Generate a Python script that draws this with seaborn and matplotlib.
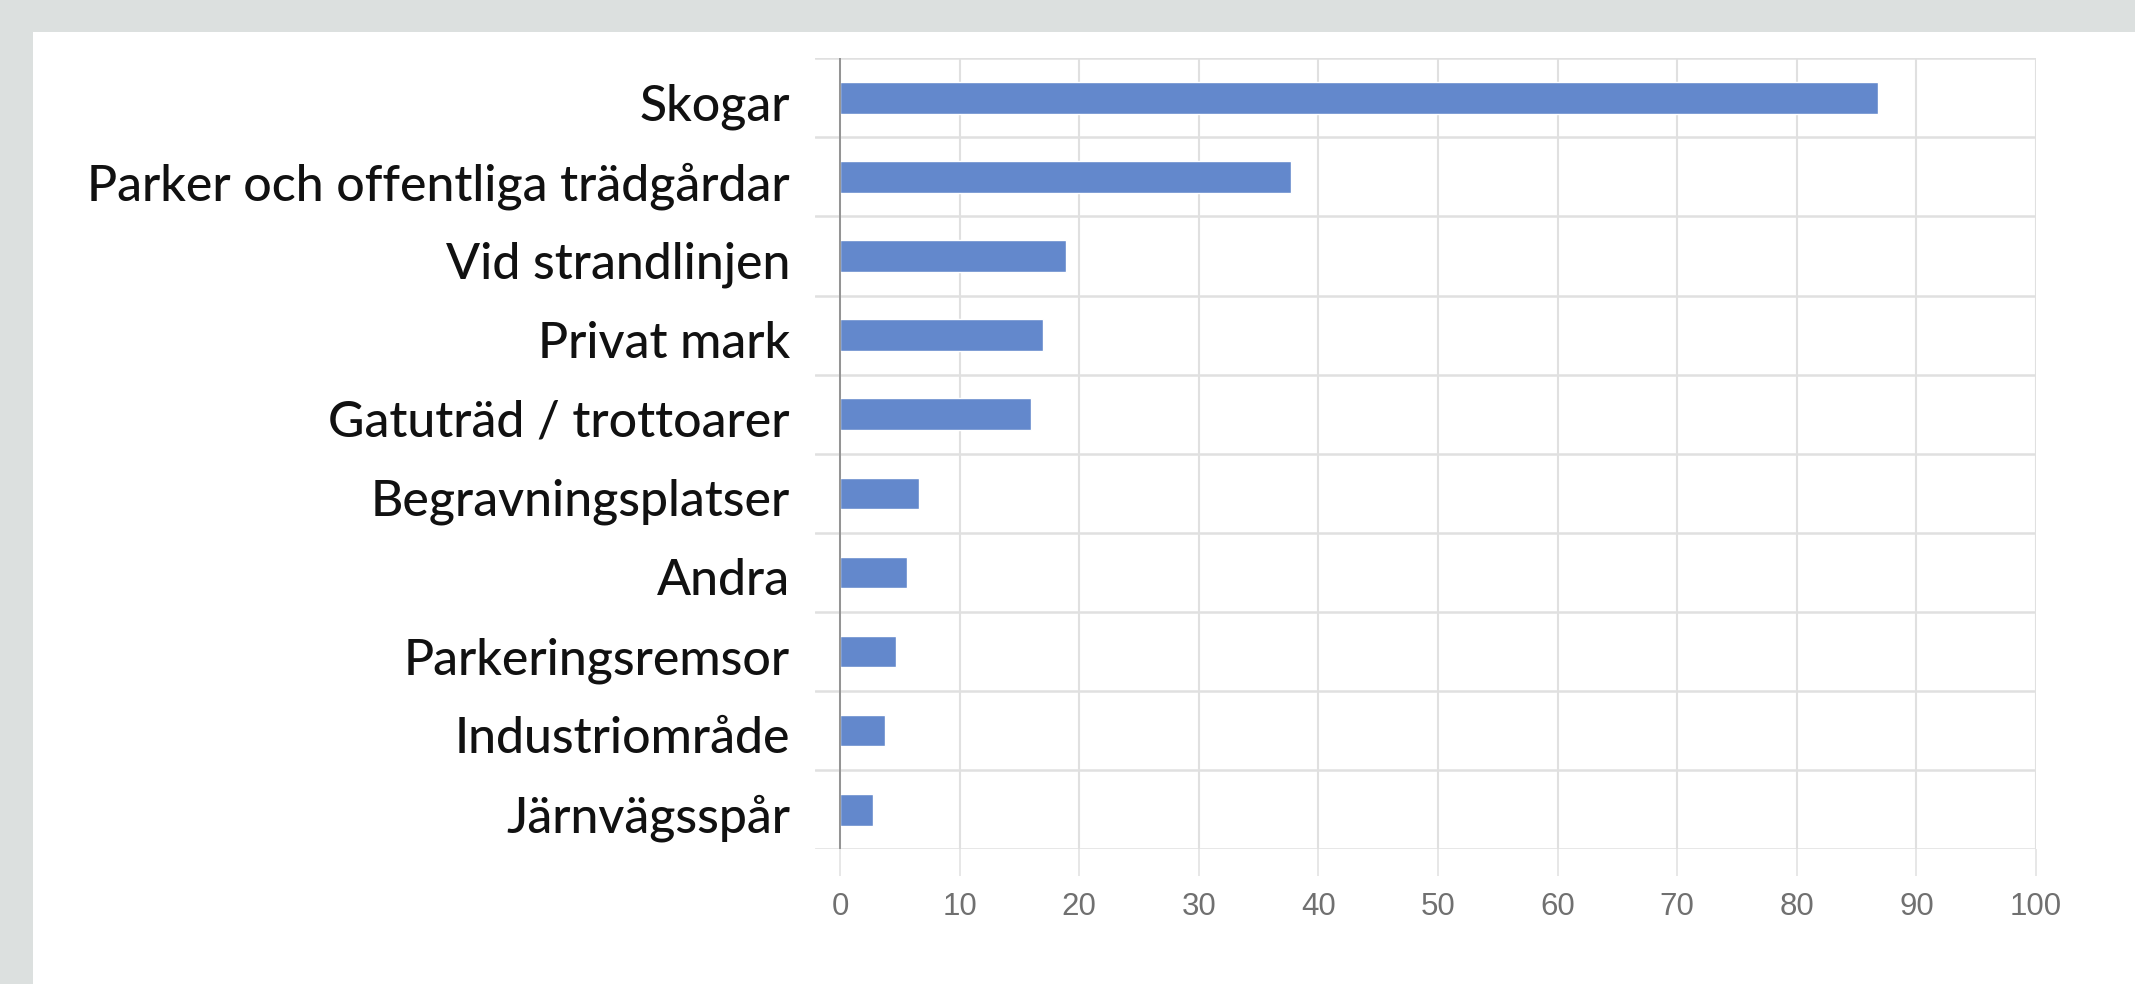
import matplotlib
matplotlib.use("Agg")
import matplotlib.pyplot as plt
import matplotlib.transforms as mtransforms
from matplotlib.patches import Rectangle
import seaborn as sns
import pandas as pd
import numpy as np

# --- data ---
categories = [
    "Skogar",
    "Parker och offentliga trädgårdar",
    "Vid strandlinjen",
    "Privat mark",
    "Gatuträd / trottoarer",
    "Begravningsplatser",
    "Andra",
    "Parkeringsremsor",
    "Industriområde",
    "Järnvägsspår",
]
values = [86.8, 37.7, 18.9, 17.0, 16.0, 6.6, 5.6, 4.7, 3.8, 2.8]
xticks = list(range(0, 101, 10))

W, H = 2135, 984
BG = "#dce0df"
BAR = "#6388cc"
GRID = "#e0e0e0"

df = pd.DataFrame({"plats": categories, "andel": values})

sns.set_style("white")
fig = plt.figure(figsize=(W / 100, H / 100), dpi=100, facecolor=BG)
# white card on the grey page
fig.patches.append(Rectangle((33 / W, 0), 1, 1 - 31.5 / H, transform=fig.transFigure,
                             facecolor="white", edgecolor="none", zorder=-10))

# axes: left edge a bit before x=0 so row lines stick out past the axis
ax = fig.add_axes([815 / W, 134.7 / H, (2036 - 815) / W, (925.7 - 134.7) / H])
ax.set_zorder(1)
ax.set_facecolor("white")

sns.barplot(data=df, x="andel", y="plats", orient="h", color=BAR, saturation=1,
            width=0.4, ax=ax, zorder=2)

px_per_unit = (2036 - 840) / 100
ax.set_xlim(-25 / px_per_unit, 100)
ax.set_ylim(len(categories) - 0.5, -0.5)

# grid: vertical at ticks, horizontal between rows
for x in xticks:
    ax.axvline(x, color=GRID, lw=1.5, zorder=1)
for y in np.arange(-0.5, len(categories), 1):
    ax.axhline(y, color=GRID, lw=1.8, zorder=1)
ax.axvline(0, color="#8c8c8c", lw=1.3, zorder=3)

for s in ax.spines.values():
    s.set_visible(False)

ax.set_xticks(xticks)
ax.set_xticklabels([str(t) for t in xticks], color="#707070", fontsize=22.5,
                   family="Liberation Sans")
ax.tick_params(axis="x", length=19.5, width=1.1, color=GRID, pad=11, bottom=True)
ax.tick_params(axis="y", length=0, pad=18)
shift = mtransforms.ScaledTranslation(0, -4 / 100, fig.dpi_scale_trans)
for lbl in ax.get_yticklabels():
    lbl.set_fontfamily("Lato")
    lbl.set_fontweight("medium")
    lbl.set_fontsize(36)
    lbl.set_color("#111111")
    lbl.set_transform(lbl.get_transform() + shift)

ax.set_xlabel("")
ax.set_ylabel("")

fig.savefig("out.png", dpi=100, facecolor=BG)
